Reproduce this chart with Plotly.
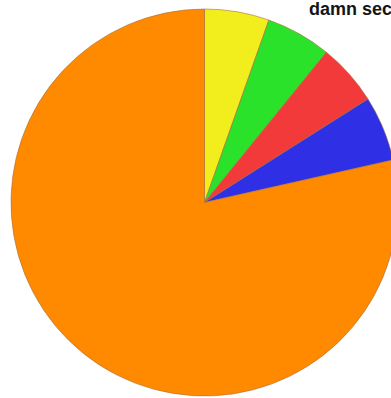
import plotly.graph_objects as go

labels = ["Yellow", "Green", "Red", "Blue", "Orange"]
values = [5.4, 5.45, 5.17, 5.45, 78.53]
colors = ["#F2EE1E", "#2BE22B", "#F23A3A", "#2F2FE6", "#FF8A00"]
caption = "damn sec"

fig = go.Figure(
    go.Pie(
        labels=labels,
        values=values,
        sort=False,
        direction="clockwise",
        rotation=0,
        textinfo="none",
        hoverinfo="none",
        marker=dict(colors=colors, line=dict(color="rgba(170,110,60,0.6)", width=1)),
        domain=dict(x=[0, 1], y=[0, 1]),
    )
)

fig.add_annotation(
    text="<b>" + caption + "</b>",
    xref="paper", yref="paper",
    x=0.765, y=1.032,
    xanchor="left", yanchor="top",
    showarrow=False,
    font=dict(family="Liberation Sans, Arial, sans-serif", size=18, color="#151515"),
)

fig.update_layout(
    width=398, height=398,
    margin=dict(l=11, r=0, t=9, b=2),
    showlegend=False,
    paper_bgcolor="white",
    plot_bgcolor="white",
)

fig.write_html(
    "out.html",
    config={"displayModeBar": False},
    post_script="document.body.style.margin='0';document.body.style.overflow='hidden';document.documentElement.style.overflow='hidden';",
)
